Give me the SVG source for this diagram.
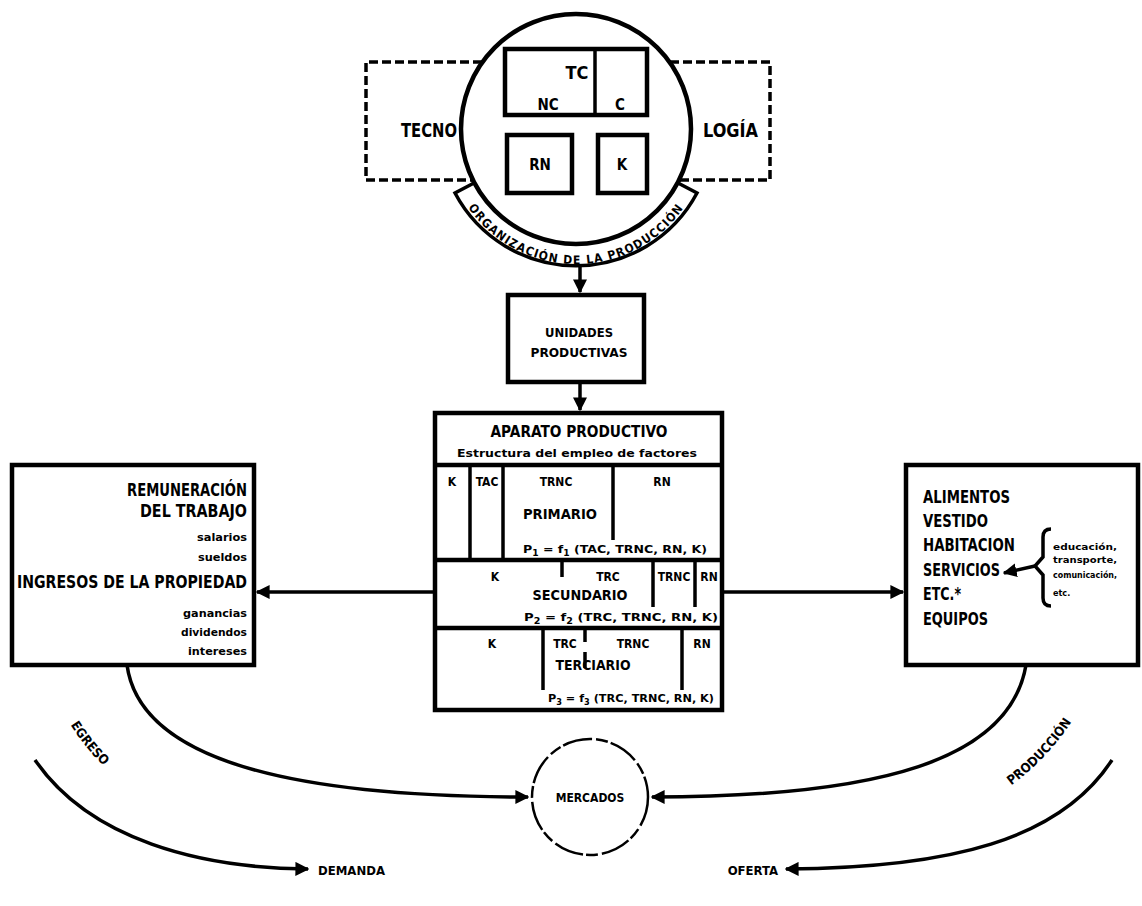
<svg xmlns="http://www.w3.org/2000/svg" xmlns:xlink="http://www.w3.org/1999/xlink" width="1142" height="906" viewBox="0 0 1142 906">
<style>
  .t { font-family: "DejaVu Sans Condensed", "Liberation Sans Narrow", "Liberation Sans", sans-serif; font-weight: bold; fill: #000; }
  .box { fill: none; stroke: #000; stroke-width: 4.5; }
  .ln { fill: none; stroke: #000; stroke-width: 3.5; }
  .dash { fill: none; stroke: #000; stroke-width: 3.5; stroke-dasharray: 9 4; }
</style>
<defs>
  <marker id="ah" viewBox="0 0 10 10" refX="9" refY="5" markerWidth="4" markerHeight="4" orient="auto" markerUnits="strokeWidth">
    <path d="M0,0 L10,5 L0,10 z" fill="#000"/>
  </marker>
  <path id="bandPath" d="M 460,194 A 131 131 0 0 0 692,194"/>
  <path id="egresoPath" d="M 52,690 C 70,730 95,765 135,790"/>
  <path id="prodPath" d="M 990,800 C 1030,775 1060,745 1085,700"/>
</defs>
<rect width="1142" height="906" fill="#fff"/>

<g id="tecnologia">
  <path class="dash" d="M 482,62 H 366 V 180 H 473"/>
  <path class="dash" d="M 670,62 H 770 V 180 H 679"/>
  <text class="t" x="401" y="137" font-size="20" textLength="56" lengthAdjust="spacingAndGlyphs">TECNO</text>
  <text class="t" x="703" y="137" font-size="20" textLength="55" lengthAdjust="spacingAndGlyphs">LOGÍA</text>
</g>

<g id="circulo-tecnologia">
  <circle class="box" cx="576" cy="129" r="115"/>
  <rect class="box" x="505" y="49" width="142" height="66"/>
  <line class="ln" x1="595" y1="49" x2="595" y2="115"/>
  <text class="t" x="577" y="79" font-size="18" text-anchor="middle">TC</text>
  <text class="t" x="548" y="110" font-size="15" text-anchor="middle">NC</text>
  <text class="t" x="620" y="110" font-size="15" text-anchor="middle">C</text>
  <rect class="box" x="507" y="135" width="65" height="58"/>
  <text class="t" x="540" y="170" font-size="15" text-anchor="middle">RN</text>
  <rect class="box" x="598" y="135" width="49" height="58"/>
  <text class="t" x="622" y="170" font-size="15" text-anchor="middle">K</text>
</g>

<g id="organizacion">
  <path class="ln" d="M 474,183 L 455,193 A 137 137 0 0 0 697,193 L 678,183"/>
  <text class="t" font-size="12" letter-spacing="1.2"><textPath xlink:href="#bandPath" startOffset="50%" text-anchor="middle">ORGANIZACIÓN DE LA PRODUCCIÓN</textPath></text>
</g>

<g id="unidades">
  <rect class="box" x="508" y="295" width="136" height="87"/>
  <text class="t" x="579" y="337" font-size="13" text-anchor="middle" textLength="68" lengthAdjust="spacingAndGlyphs">UNIDADES</text>
  <text class="t" x="579" y="357" font-size="13" text-anchor="middle" textLength="97" lengthAdjust="spacingAndGlyphs">PRODUCTIVAS</text>
</g>

<g id="aparato">
  <rect class="box" x="435" y="413" width="287" height="297"/>
  <text class="t" x="579" y="437" font-size="15" text-anchor="middle" textLength="177" lengthAdjust="spacingAndGlyphs">APARATO PRODUCTIVO</text>
  <text class="t" x="577" y="457" font-size="10" text-anchor="middle" textLength="240" lengthAdjust="spacingAndGlyphs">Estructura del empleo de factores</text>
  <line class="box" x1="435" y1="465" x2="722" y2="465"/>
  <!-- primario -->
  <line class="ln" x1="470" y1="465" x2="470" y2="560"/>
  <line class="ln" x1="503" y1="465" x2="503" y2="560"/>
  <line class="ln" x1="613" y1="465" x2="613" y2="540"/>
  <text class="t" x="452" y="486" font-size="12" text-anchor="middle">K</text>
  <text class="t" x="487" y="486" font-size="12" text-anchor="middle">TAC</text>
  <text class="t" x="556" y="486" font-size="12" text-anchor="middle">TRNC</text>
  <text class="t" x="662" y="486" font-size="12" text-anchor="middle">RN</text>
  <text class="t" x="560" y="519" font-size="14" text-anchor="middle" textLength="74" lengthAdjust="spacingAndGlyphs">PRIMARIO</text>
  <text class="t" x="523" y="553" font-size="11" textLength="184" lengthAdjust="spacingAndGlyphs">P<tspan font-size="8" dy="3">1</tspan><tspan dy="-3"> = f</tspan><tspan font-size="8" dy="3">1</tspan><tspan dy="-3">  (TAC, TRNC, RN, K)</tspan></text>
  <line class="box" x1="435" y1="560" x2="722" y2="560"/>
  <!-- secundario -->
  <line class="ln" x1="562" y1="560" x2="562" y2="577"/>
  <line class="ln" x1="653" y1="560" x2="653" y2="607"/>
  <line class="ln" x1="695" y1="560" x2="695" y2="607"/>
  <text class="t" x="495" y="581" font-size="12" text-anchor="middle">K</text>
  <text class="t" x="608" y="581" font-size="12" text-anchor="middle">TRC</text>
  <text class="t" x="674" y="581" font-size="12" text-anchor="middle">TRNC</text>
  <text class="t" x="709" y="581" font-size="12" text-anchor="middle">RN</text>
  <text class="t" x="580" y="600" font-size="14" text-anchor="middle" textLength="95" lengthAdjust="spacingAndGlyphs">SECUNDARIO</text>
  <text class="t" x="524" y="621" font-size="11" textLength="194" lengthAdjust="spacingAndGlyphs">P<tspan font-size="8" dy="3">2</tspan><tspan dy="-3"> = f</tspan><tspan font-size="8" dy="3">2</tspan><tspan dy="-3">  (TRC, TRNC, RN, K)</tspan></text>
  <line class="box" x1="435" y1="628" x2="722" y2="628"/>
  <!-- terciario -->
  <line class="ln" x1="543" y1="628" x2="543" y2="690"/>
  <line class="ln" x1="585" y1="628" x2="585" y2="642"/>
  <line class="ln" x1="585" y1="652" x2="585" y2="668"/>
  <line class="ln" x1="682" y1="628" x2="682" y2="690"/>
  <text class="t" x="492" y="648" font-size="12" text-anchor="middle">K</text>
  <text class="t" x="565" y="648" font-size="12" text-anchor="middle">TRC</text>
  <text class="t" x="633" y="648" font-size="12" text-anchor="middle">TRNC</text>
  <text class="t" x="702" y="648" font-size="12" text-anchor="middle">RN</text>
  <text class="t" x="593" y="670" font-size="14" text-anchor="middle" textLength="75" lengthAdjust="spacingAndGlyphs">TERCIARIO</text>
  <text class="t" x="548" y="702" font-size="11" textLength="166" lengthAdjust="spacingAndGlyphs">P<tspan font-size="8" dy="3">3</tspan><tspan dy="-3"> = f</tspan><tspan font-size="8" dy="3">3</tspan><tspan dy="-3">  (TRC, TRNC, RN, K)</tspan></text>
</g>

<g id="remuneracion">
  <rect class="box" x="12" y="465" width="242" height="200"/>
  <text class="t" x="247" y="496" font-size="17" text-anchor="end" textLength="120" lengthAdjust="spacingAndGlyphs">REMUNERACIÓN</text>
  <text class="t" x="247" y="517" font-size="17" text-anchor="end" textLength="107" lengthAdjust="spacingAndGlyphs">DEL TRABAJO</text>
  <text class="t" x="247" y="541" font-size="10" text-anchor="end" textLength="50" lengthAdjust="spacingAndGlyphs">salarios</text>
  <text class="t" x="247" y="561" font-size="10" text-anchor="end" textLength="49" lengthAdjust="spacingAndGlyphs">sueldos</text>
  <text class="t" x="247" y="588" font-size="17" text-anchor="end" textLength="230" lengthAdjust="spacingAndGlyphs">INGRESOS DE LA PROPIEDAD</text>
  <text class="t" x="247" y="617" font-size="10" text-anchor="end" textLength="64" lengthAdjust="spacingAndGlyphs">ganancias</text>
  <text class="t" x="247" y="636" font-size="10" text-anchor="end" textLength="66" lengthAdjust="spacingAndGlyphs">dividendos</text>
  <text class="t" x="247" y="655" font-size="10" text-anchor="end" textLength="59" lengthAdjust="spacingAndGlyphs">intereses</text>
</g>

<g id="bienes">
  <rect class="box" x="906" y="465" width="232" height="200"/>
  <text class="t" x="923" y="503" font-size="17" textLength="87" lengthAdjust="spacingAndGlyphs">ALIMENTOS</text>
  <text class="t" x="923" y="527" font-size="17" textLength="65" lengthAdjust="spacingAndGlyphs">VESTIDO</text>
  <text class="t" x="923" y="551" font-size="17" textLength="92" lengthAdjust="spacingAndGlyphs">HABITACION</text>
  <text class="t" x="923" y="576" font-size="17" textLength="77" lengthAdjust="spacingAndGlyphs">SERVICIOS</text>
  <text class="t" x="923" y="600" font-size="17" textLength="38" lengthAdjust="spacingAndGlyphs">ETC.*</text>
  <text class="t" x="923" y="625" font-size="17" textLength="65" lengthAdjust="spacingAndGlyphs">EQUIPOS</text>
  <path class="ln" d="M 1051,529 Q 1043,529 1043,537 V 557 L 1035,566 L 1043,575 V 598 Q 1043,606 1051,606"/>
  <line class="ln" x1="1035" y1="566" x2="1004" y2="573" marker-end="url(#ah)"/>
  <text class="t" x="1053" y="550" font-size="9" textLength="64" lengthAdjust="spacingAndGlyphs">educación,</text>
  <text class="t" x="1053" y="563" font-size="9" textLength="64" lengthAdjust="spacingAndGlyphs">transporte,</text>
  <text class="t" x="1053" y="578" font-size="9" textLength="64" lengthAdjust="spacingAndGlyphs">comunicación,</text>
  <text class="t" x="1053" y="596" font-size="9">etc.</text>
</g>

<g id="mercados">
  <circle cx="590" cy="797" r="58" fill="none" stroke="#000" stroke-width="2.5" stroke-dasharray="30 4 12 3"/>
  <text class="t" x="590" y="802" font-size="12" text-anchor="middle">MERCADOS</text>
</g>

<g id="etiquetas">
  <text class="t" x="318" y="875" font-size="13">DEMANDA</text>
  <text class="t" x="778" y="875" font-size="13" text-anchor="end">OFERTA</text>
  <text class="t" font-size="13"><textPath xlink:href="#egresoPath" startOffset="50%" text-anchor="middle">EGRESO</textPath></text>
  <text class="t" font-size="13"><textPath xlink:href="#prodPath" startOffset="50%" text-anchor="middle">PRODUCCIÓN</textPath></text>
</g>

<g id="conectores">
  <line class="ln" x1="580" y1="265" x2="580" y2="292" marker-end="url(#ah)"/>
  <line class="ln" x1="580" y1="382" x2="580" y2="410" marker-end="url(#ah)"/>
  <line class="ln" x1="435" y1="592" x2="257" y2="592" marker-end="url(#ah)"/>
  <line class="ln" x1="722" y1="592" x2="903" y2="592" marker-end="url(#ah)"/>
  <path class="ln" d="M 127,665 C 140,760 290,797 528,797" marker-end="url(#ah)"/>
  <path class="ln" d="M 35,760 C 90,840 200,868 308,869" marker-end="url(#ah)"/>
  <path class="ln" d="M 1026,665 C 1010,760 880,797 652,797" marker-end="url(#ah)"/>
  <path class="ln" d="M 1112,760 C 1060,840 950,868 786,869" marker-end="url(#ah)"/>
</g>
</svg>
